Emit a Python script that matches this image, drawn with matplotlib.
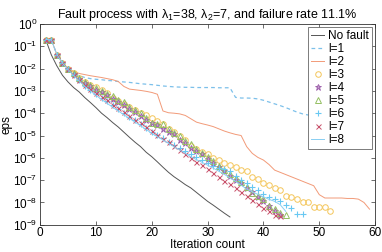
import numpy as np
import matplotlib
matplotlib.use("Agg")
import matplotlib.pyplot as plt

plt.rcParams['font.family'] = ['Liberation Sans', 'DejaVu Sans']
plt.rcParams['mathtext.default'] = 'regular'

# log10(eps) per iteration
noFault = [-0.70, -1.38, -1.88, -2.30, -2.60, -2.85, -3.05, -3.30, -3.52, -3.75,
           -4.00, -4.20, -4.42, -4.62, -4.85, -5.08, -5.30, -5.50, -5.75, -5.95,
           -6.18, -6.42, -6.65, -6.85, -7.02, -7.20, -7.35, -7.55, -7.75, -7.95,
           -8.12, -8.30, -8.48, -8.65]
l1 = [-0.70, -0.70, -1.37, -1.74, -2.00, -2.20, -2.32, -2.40, -2.45, -2.48,
      -2.50, -2.53, -2.55, -2.58, -2.60, -2.62, -2.65, -2.68, -2.70, -2.72,
      -2.75, -2.78, -2.80, -2.82, -2.83, -2.84, -2.84, -2.85, -2.85, -2.85,
      -2.85, -2.86, -2.86, -2.86, -3.29, -3.32, -3.32, -3.33, -3.36, -3.42,
      -3.50, -3.58, -3.66, -3.75, -3.85, -3.95, -4.03, -4.08, -4.12, -4.16]
l2 = [-0.70, -0.70, -1.37, -1.74, -2.00, -2.12, -2.22, -2.27, -2.32, -2.36,
      -2.40, -2.45, -2.50, -2.58, -2.80, -2.92, -2.95, -2.98, -3.02, -3.07,
      -3.15, -3.90, -3.98, -4.00, -4.03, -4.10, -4.25, -4.40, -4.47, -4.53,
      -4.60, -4.70, -4.80, -4.88, -4.95, -5.00, -5.50, -5.80, -5.98, -6.10,
      -6.30, -6.55, -6.65, -6.75, -6.85, -6.95, -7.05, -7.15, -7.25, -7.65,
      -7.80, -7.80, -7.80, -7.80, -7.82, -7.82, -7.85, -8.00, -8.30]
l3 = [-0.70, -0.70, -1.37, -1.74, -2.00, -2.22, -2.42, -2.60, -2.75, -2.82,
      -2.95, -3.10, -3.30, -3.45, -3.60, -3.72, -3.84, -4.00, -4.10, -4.22,
      -4.37, -4.47, -4.70, -4.84, -5.00, -5.20, -5.45, -5.60, -5.72, -5.85,
      -6.00, -6.09, -6.22, -6.31, -6.43, -6.54, -6.60, -6.88, -6.93, -7.15,
      -7.23, -7.35, -7.42, -7.70, -7.76, -7.84, -7.97, -7.97, -8.19, -8.19,
      -8.20, -8.40]
l4 = [-0.70, -0.70, -1.37, -1.74, -2.00, -2.24, -2.46, -2.65, -2.80, -2.95,
      -3.05, -3.20, -3.35, -3.48, -3.62, -3.80, -3.95, -4.12, -4.30, -4.45,
      -4.55, -4.72, -4.85, -4.95, -5.20, -5.35, -5.55, -5.70, -5.85, -6.05,
      -6.25, -6.42, -6.60, -6.80, -7.00, -7.15, -7.35, -7.55, -7.75, -7.95,
      -8.15, -8.40, -8.55]
l5 = [-0.70, -0.70, -1.37, -1.74, -2.00, -2.22, -2.42, -2.60, -2.75, -2.85,
      -3.00, -3.12, -3.25, -3.40, -3.52, -3.70, -3.85, -4.00, -4.20, -4.42,
      -4.48, -4.50, -4.70, -4.90, -5.00, -5.25, -5.40, -5.60, -5.80, -5.98,
      -6.15, -6.35, -6.55, -6.72, -6.90, -7.10, -7.30, -7.57, -7.70, -7.86,
      -8.15, -8.30, -8.45, -8.57]
l6 = [-0.70, -0.70, -1.37, -1.76, -2.03, -2.28, -2.52, -2.76, -2.95, -3.12,
      -3.30, -3.47, -3.64, -3.80, -3.98, -4.15, -4.32, -4.50, -4.65, -4.82,
      -4.97, -5.12, -5.27, -5.42, -5.55, -5.70, -5.85, -5.98, -6.10, -6.22,
      -6.35, -6.46, -6.50, -6.60, -6.83, -6.98, -7.15, -7.30, -7.45, -7.60,
      -7.76, -7.85, -7.93, -8.10, -8.25, -8.50, -8.53]
l7 = [-0.70, -0.70, -1.37, -1.75, -2.02, -2.27, -2.50, -2.74, -2.92, -3.08,
      -3.27, -3.43, -3.62, -3.78, -3.95, -4.12, -4.30, -4.46, -4.63, -4.80,
      -4.97, -5.15, -5.31, -5.48, -5.65, -5.82, -5.99, -6.17, -6.34, -6.52,
      -6.68, -6.85, -7.02, -7.19, -7.36, -7.54, -7.71, -7.88, -8.06, -8.23,
      -8.40, -8.58, -8.62]
l8 = [-0.70, -0.70, -1.37, -1.76, -2.04, -2.30, -2.55, -2.80, -3.00, -3.20,
      -3.38, -3.56, -3.73, -3.90, -4.07, -4.23, -4.40, -4.56, -4.73, -4.90,
      -5.05, -5.20, -5.35, -5.50, -5.65, -5.80, -5.95, -6.08, -6.20, -6.33,
      -6.46, -6.60, -6.74, -6.90, -7.05, -7.22, -7.40, -7.52, -7.64, -7.75,
      -7.86, -7.95, -8.10, -8.40]

labels = ['No fault', 'l=1', 'l=2', 'l=3', 'l=4', 'l=5', 'l=6', 'l=7', 'l=8']


def its(v):
    return np.arange(1, len(v) + 1)


def eps(v):
    return 10.0 ** np.array(v)


fig = plt.figure(figsize=(3.82, 2.52), dpi=100)
ax = fig.add_axes([0.105, 0.108, 0.877, 0.797])

ax.plot(its(noFault), eps(noFault), color='#555555', lw=0.7, label=labels[0])
ax.plot(its(l1), eps(l1), color='#7cc0ea', lw=0.9, ls=(0, (3, 2.5)), label=labels[1])
ax.plot(its(l2), eps(l2), color='#f29a78', lw=0.7, label=labels[2])
ax.plot(its(l3), eps(l3), ls='none', marker='o', ms=4.0, mfc='none', mec='#f4c65a',
        mew=0.7, label=labels[3])
ax.plot(its(l4), eps(l4), ls='none', marker='*', ms=4.8, mfc='#c29ccc', mec='#9a5aa8',
        mew=0.6, label=labels[4])
ax.plot(its(l5), eps(l5), ls='none', marker='^', ms=3.8, mfc='none', mec='#94bf62',
        mew=0.7, label=labels[5])
ax.plot(its(l6), eps(l6), ls='none', marker='+', ms=4.5, mec='#68c8f2', mew=0.8,
        label=labels[6])
ax.plot(its(l7), eps(l7), ls='none', marker='x', ms=3.6, mec='#c8506a', mew=0.7,
        label=labels[7])
ax.plot(its(l8), eps(l8), color='#88cef2', lw=0.7, label=labels[8])

ax.set_yscale('log')
ax.set_ylim(1e-9, 1)
ax.set_xlim(0, 60)
ax.set_xticks(range(0, 61, 10))
ax.set_yticks([10.0 ** k for k in range(-9, 1)])
ax.tick_params(which='both', direction='in', top=True, right=True, labelsize=8.5,
               color='#333333')
ax.tick_params(which='major', length=3, width=0.5)
ax.tick_params(which='minor', length=1.6, width=0.4)
ax.tick_params(axis='x', pad=1.5)
ax.tick_params(axis='y', pad=2)
for s in ax.spines.values():
    s.set_linewidth(0.6)
    s.set_color('#333333')

ax.set_title('Fault process with λ$_1$=38, λ$_2$=7, and failure rate 11.1%',
             fontsize=9, pad=4)
ax.set_xlabel('Iteration count', fontsize=8.5, labelpad=0)
ax.set_ylabel('eps', fontsize=8.5, labelpad=0)

leg = ax.legend(loc='upper right', fontsize=8.5, handlelength=1.1, handletextpad=0.3,
                labelspacing=0.08, borderpad=0.25, borderaxespad=0.3, fancybox=False,
                framealpha=1, edgecolor='#666666')
leg.get_frame().set_linewidth(0.6)

fig.savefig('out.png', dpi=100)
